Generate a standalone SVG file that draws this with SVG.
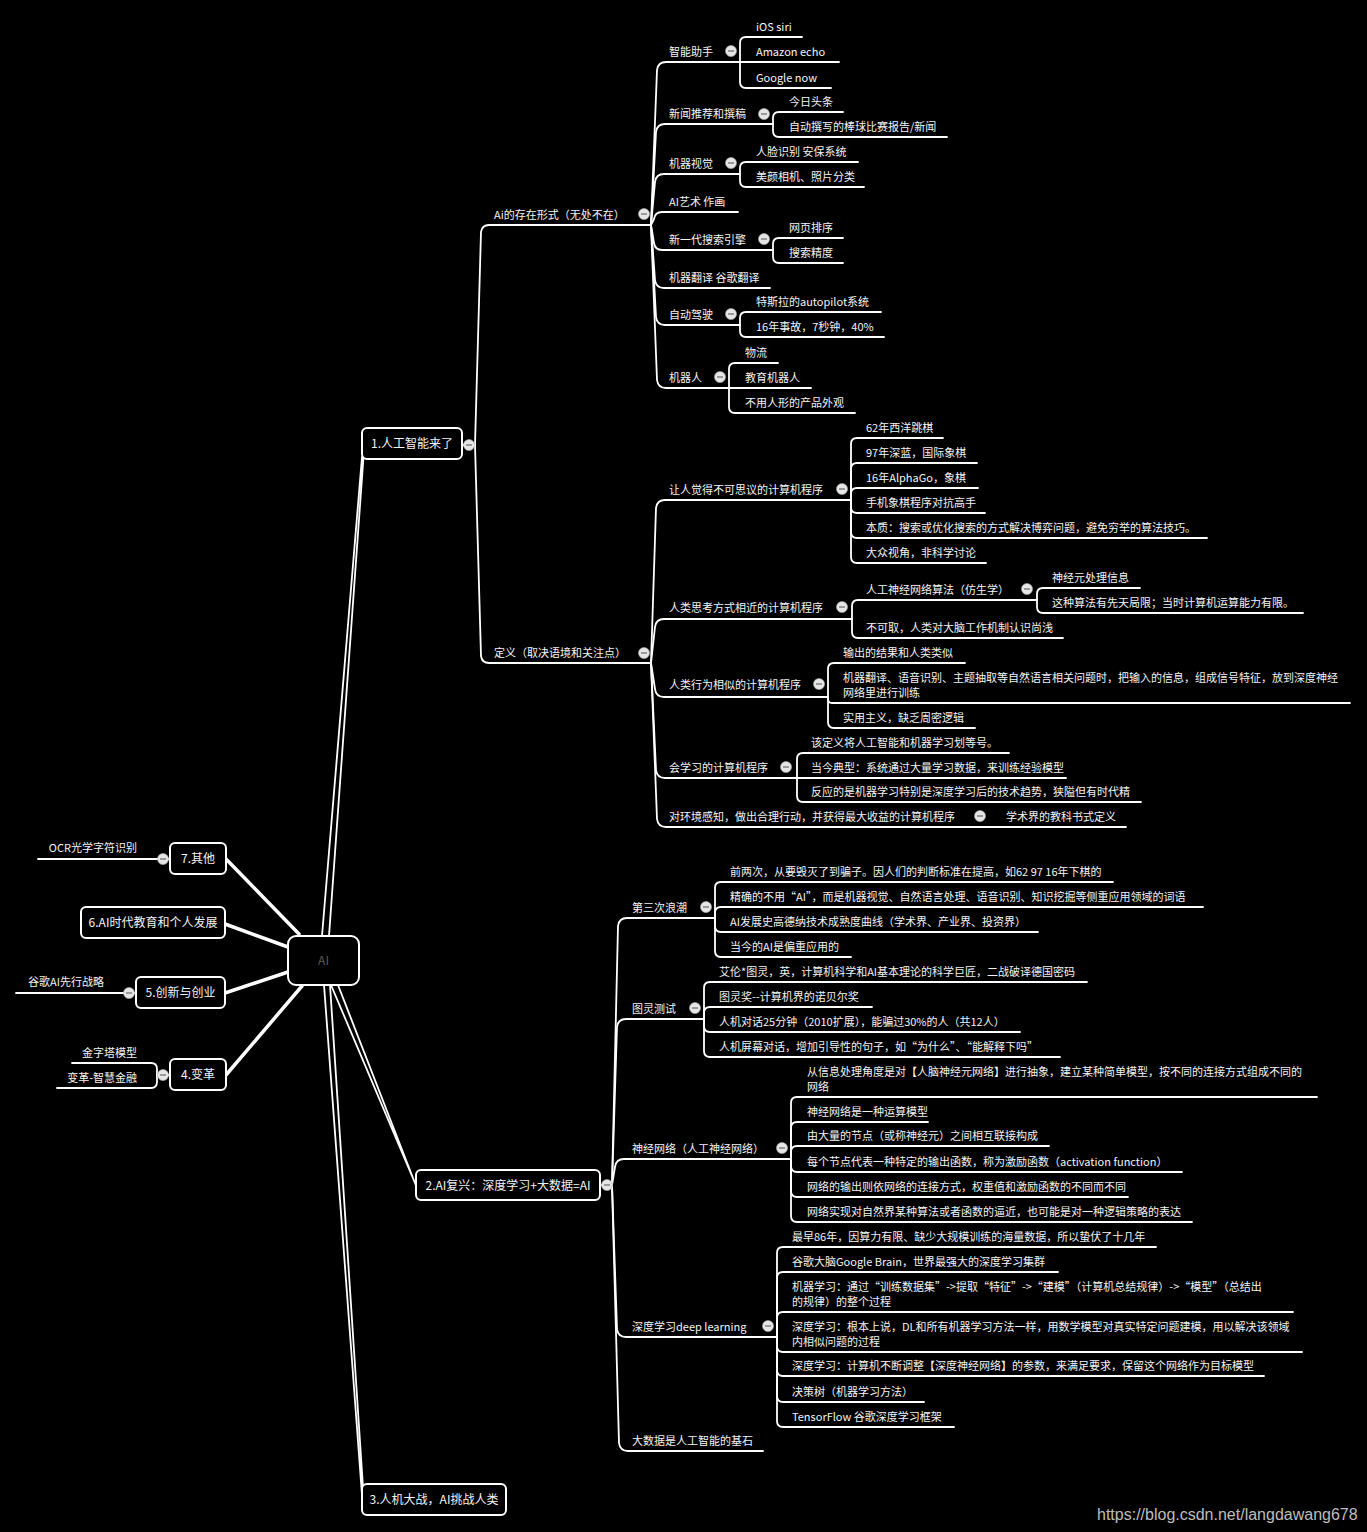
<svg xmlns="http://www.w3.org/2000/svg" xmlns:xlink="http://www.w3.org/1999/xlink" width="1367" height="1532" viewBox="0 0 1367 1532">
<style>
text{font-family:"Noto Sans CJK SC","Noto Sans",sans-serif;font-size:11px;fill:#f4f4f4}
.bx{font-size:12px;text-anchor:middle}
.c path,.c line{fill:none;stroke:#fff;stroke-width:1.8;stroke-linecap:round;stroke-linejoin:round}
.c .thick{stroke-width:3.5}
.box{fill:#000;stroke:#fff;stroke-width:2}
.e{text-anchor:end}
</style>
<defs>
<g id="dot"><circle r="5.5" fill="#e6e6e6" stroke="#b0b0b0" stroke-width="0.6"/><line x1="-3" y1="0" x2="3" y2="0" stroke="#808080" stroke-width="1.5"/></g>
</defs>
<rect width="1367" height="1532" fill="#000"/>

<g id="connectors" class="c">
<line class="thick" x1="226" y1="859" x2="299" y2="934"/>
<line class="thick" x1="225" y1="924" x2="288" y2="947"/>
<line class="thick" x1="225" y1="993" x2="288" y2="972"/>
<line class="thick" x1="226" y1="1075" x2="302" y2="986"/>
<path d="M322 936 L329 936 L363.5 457 L362 457 Z" fill="#fff" stroke="none"/>
<path d="M324 985 L330 985 L363.5 1495 L362 1495 Z" fill="#fff" stroke="none"/>
<path d="M331 985 L338 985 L416.5 1187 L415 1183 Z" fill="#fff" stroke="none"/>
<path d="M170 859 L38 859"/>
<path d="M136 993 L16 993"/>
<path d="M170 1075 L157 1075"/>
<path d="M157 1075 L157 1069 Q157 1063 151 1063 L72 1063"/>
<path d="M157 1075 L157 1082 Q157 1088 151 1088 L57 1088"/>
<path d="M462 445 L475 445"/>
<path d="M475 445 L481 232 Q482 225 489 225 L651 225"/>
<path d="M475 445 L481 656 Q482 663 489 663 L651 663"/>
<path d="M651 225 L657 70 Q658 62 666 62 L740 62"/>
<path d="M651 225 L656 132 Q657 124 665 124 L773 124"/>
<path d="M651 225 L655 182 Q656 174 664 174 L740 174"/>
<path d="M651 225 L654 219 Q655 212 662 212 L738 212"/>
<path d="M651 225 L654 243 Q655 250 662 250 L773 250"/>
<path d="M651 225 L655 280 Q656 288 664 288 L770 288"/>
<path d="M651 225 L656 317 Q657 325 665 325 L740 325"/>
<path d="M651 225 L657 380 Q658 388 666 388 L729 388"/>
<path d="M740 62 L740 43 Q740 37 746 37 L802 37"/>
<path d="M740 62 L839 62"/>
<path d="M740 62 L740 82 Q740 88 746 88 L831 88"/>
<path d="M773 124 L773 118 Q773 112 779 112 L843 112"/>
<path d="M773 124 L773 131 Q773 137 779 137 L947 137"/>
<path d="M740 174 L740 168 Q740 162 746 162 L858 162"/>
<path d="M740 174 L740 181 Q740 187 746 187 L864 187"/>
<path d="M773 250 L773 244 Q773 238 779 238 L843 238"/>
<path d="M773 250 L773 257 Q773 263 779 263 L843 263"/>
<path d="M740 325 L740 318 Q740 312 746 312 L881 312"/>
<path d="M740 325 L740 331 Q740 337 746 337 L884 337"/>
<path d="M729 388 L729 369 Q729 363 735 363 L778 363"/>
<path d="M729 388 L811 388"/>
<path d="M729 388 L729 407 Q729 413 735 413 L855 413"/>
<path d="M651 663 L656 508 Q657 500 665 500 L851 500"/>
<path d="M651 663 L655 627 Q656 619 664 619 L852 619"/>
<path d="M651 663 L655 689 Q656 697 664 697 L828 697"/>
<path d="M651 663 L656 770 Q657 778 665 778 L797 778"/>
<path d="M651 663 L657 819 Q658 827 666 827 L1126 827"/>
<path d="M851 500 L851 444 Q851 438 857 438 L943 438"/>
<path d="M851 500 L851 469 Q851 463 857 463 L977 463"/>
<path d="M851 500 L851 494 Q851 488 857 488 L978 488"/>
<path d="M851 500 L851 507 Q851 513 857 513 L985 513"/>
<path d="M851 500 L851 532 Q851 538 857 538 L1207 538"/>
<path d="M851 500 L851 557 Q851 563 857 563 L986 563"/>
<path d="M852 619 L852 606 Q852 600 858 600 L1037 600"/>
<path d="M852 619 L852 632 Q852 638 858 638 L1063 638"/>
<path d="M1037 600 L1037 594 Q1037 588 1043 588 L1140 588"/>
<path d="M1037 600 L1037 607 Q1037 613 1043 613 L1303 613"/>
<path d="M828 697 L828 669 Q828 663 834 663 L965 663"/>
<path d="M828 697 L828 699 Q828 703 832 703 L1350 703"/>
<path d="M828 697 L828 722 Q828 728 834 728 L975 728"/>
<path d="M797 778 L797 759 Q797 753 803 753 L1009 753"/>
<path d="M797 778 L1066 778"/>
<path d="M797 778 L797 796 Q797 802 803 802 L1141 802"/>
<path d="M600 1185 L612 1185"/>
<path d="M612 1185 L618 926 Q619 918 627 918 L715 918"/>
<path d="M612 1185 L617 1027 Q618 1019 626 1019 L704 1019"/>
<path d="M612 1185 L615 1167 Q616 1159 624 1159 L791 1159"/>
<path d="M612 1185 L617 1329 Q618 1337 626 1337 L777 1337"/>
<path d="M612 1185 L619 1443 Q620 1451 628 1451 L763 1451"/>
<path d="M715 918 L715 888 Q715 882 721 882 L1113 882"/>
<path d="M715 918 L715 913 Q715 907 721 907 L1203 907"/>
<path d="M715 918 L715 926 Q715 932 721 932 L1038 932"/>
<path d="M715 918 L715 951 Q715 957 721 957 L851 957"/>
<path d="M704 1019 L704 988 Q704 982 710 982 L1087 982"/>
<path d="M704 1019 L704 1013 Q704 1007 710 1007 L872 1007"/>
<path d="M704 1019 L704 1026 Q704 1032 710 1032 L1020 1032"/>
<path d="M704 1019 L704 1051 Q704 1057 710 1057 L1060 1057"/>
<path d="M791 1159 L791 1103 Q791 1097 797 1097 L1317 1097"/>
<path d="M791 1159 L791 1128 Q791 1122 797 1122 L928 1122"/>
<path d="M791 1159 L791 1152 Q791 1146 797 1146 L1049 1146"/>
<path d="M791 1159 L791 1166 Q791 1172 797 1172 L1182 1172"/>
<path d="M791 1159 L791 1191 Q791 1197 797 1197 L1128 1197"/>
<path d="M791 1159 L791 1216 Q791 1222 797 1222 L1192 1222"/>
<path d="M777 1337 L777 1253 Q777 1247 783 1247 L1156 1247"/>
<path d="M777 1337 L777 1278 Q777 1272 783 1272 L1058 1272"/>
<path d="M777 1337 L777 1318 Q777 1312 783 1312 L1293 1312"/>
<path d="M777 1337 L777 1346 Q777 1352 783 1352 L1302 1352"/>
<path d="M777 1337 L777 1370 Q777 1376 783 1376 L1264 1376"/>
<path d="M777 1337 L777 1396 Q777 1402 783 1402 L924 1402"/>
<path d="M777 1337 L777 1421 Q777 1427 783 1427 L954 1427"/>
</g>

<g id="n-ai"><rect class="box" x="288" y="936" width="71" height="49" rx="8" stroke-width="4"/><text class="bx" x="323.5" y="965" style="fill:#5a5a5a">AI</text></g>

<g id="n-7"><rect class="box" x="170" y="843" width="56" height="31" rx="5"/><text class="bx" x="198" y="863">7.其他</text><use href="#dot" x="163" y="859"/></g>
<g id="n-7-1"><text class="e" x="137" y="852">OCR光学字符识别</text></g>
<g id="n-6"><rect class="box" x="81" y="907" width="144" height="31" rx="5"/><text class="bx" x="153" y="927">6.AI时代教育和个人发展</text></g>
<g id="n-5"><rect class="box" x="136" y="977" width="89" height="31" rx="5"/><text class="bx" x="180.5" y="997">5.创新与创业</text><use href="#dot" x="129" y="993"/></g>
<g id="n-5-1"><text class="e" x="104" y="986">谷歌AI先行战略</text></g>
<g id="n-4"><rect class="box" x="170" y="1059" width="56" height="31" rx="5"/><text class="bx" x="198" y="1079">4.变革</text><use href="#dot" x="163" y="1075"/></g>
<g id="n-4-1"><text class="e" x="137" y="1057">金字塔模型</text></g>
<g id="n-4-2"><text class="e" x="137" y="1082">变革-智慧金融</text></g>

<g id="n-1"><rect class="box" x="362" y="428" width="100" height="31" rx="5"/><text class="bx" x="412" y="448">1.人工智能来了</text><use href="#dot" x="469" y="445"/></g>
<g id="n-1-1"><text x="494" y="219">Ai的存在形式（无处不在）</text><use href="#dot" x="644" y="214"/></g>
<g id="n-1-1-1"><text x="669" y="56">智能助手</text><use href="#dot" x="731" y="51"/></g>
<g id="n-1-1-1-1"><text x="756" y="31">iOS siri</text></g>
<g id="n-1-1-1-2"><text x="756" y="56">Amazon echo</text></g>
<g id="n-1-1-1-3"><text x="756" y="82">Google now</text></g>
<g id="n-1-1-2"><text x="669" y="118">新闻推荐和撰稿</text><use href="#dot" x="764" y="114"/></g>
<g id="n-1-1-2-1"><text x="789" y="106">今日头条</text></g>
<g id="n-1-1-2-2"><text x="789" y="131">自动撰写的棒球比赛报告/新闻</text></g>
<g id="n-1-1-3"><text x="669" y="168">机器视觉</text><use href="#dot" x="731" y="163"/></g>
<g id="n-1-1-3-1"><text x="756" y="156">人脸识别 安保系统</text></g>
<g id="n-1-1-3-2"><text x="756" y="181">美颜相机、照片分类</text></g>
<g id="n-1-1-4"><text x="669" y="206">AI艺术 作画</text></g>
<g id="n-1-1-5"><text x="669" y="244">新一代搜索引擎</text><use href="#dot" x="764" y="239"/></g>
<g id="n-1-1-5-1"><text x="789" y="232">网页排序</text></g>
<g id="n-1-1-5-2"><text x="789" y="257">搜索精度</text></g>
<g id="n-1-1-6"><text x="669" y="282">机器翻译 谷歌翻译</text></g>
<g id="n-1-1-7"><text x="669" y="319">自动驾驶</text><use href="#dot" x="731" y="314"/></g>
<g id="n-1-1-7-1"><text x="756" y="306">特斯拉的autopilot系统</text></g>
<g id="n-1-1-7-2"><text x="756" y="331">16年事故，7秒钟，40%</text></g>
<g id="n-1-1-8"><text x="669" y="382">机器人</text><use href="#dot" x="720" y="377"/></g>
<g id="n-1-1-8-1"><text x="745" y="357">物流</text></g>
<g id="n-1-1-8-2"><text x="745" y="382">教育机器人</text></g>
<g id="n-1-1-8-3"><text x="745" y="407">不用人形的产品外观</text></g>

<g id="n-1-2"><text x="494" y="657">定义（取决语境和关注点）</text><use href="#dot" x="644" y="653"/></g>
<g id="n-1-2-1"><text x="669" y="494">让人觉得不可思议的计算机程序</text><use href="#dot" x="842" y="489"/></g>
<g id="n-1-2-1-1"><text x="866" y="432">62年西洋跳棋</text></g>
<g id="n-1-2-1-2"><text x="866" y="457">97年深蓝，国际象棋</text></g>
<g id="n-1-2-1-3"><text x="866" y="482">16年AlphaGo，象棋</text></g>
<g id="n-1-2-1-4"><text x="866" y="507">手机象棋程序对抗高手</text></g>
<g id="n-1-2-1-5"><text x="866" y="532">本质：搜索或优化搜索的方式解决博弈问题，避免穷举的算法技巧。</text></g>
<g id="n-1-2-1-6"><text x="866" y="557">大众视角，非科学讨论</text></g>
<g id="n-1-2-2"><text x="669" y="612">人类思考方式相近的计算机程序</text><use href="#dot" x="842" y="607"/></g>
<g id="n-1-2-2-1"><text x="866" y="594">人工神经网络算法（仿生学）</text><use href="#dot" x="1027" y="589"/></g>
<g id="n-1-2-2-1-1"><text x="1052" y="582">神经元处理信息</text></g>
<g id="n-1-2-2-1-2"><text x="1052" y="607">这种算法有先天局限；当时计算机运算能力有限。</text></g>
<g id="n-1-2-2-2"><text x="866" y="632">不可取，人类对大脑工作机制认识尚浅</text></g>
<g id="n-1-2-3"><text x="669" y="689">人类行为相似的计算机程序</text><use href="#dot" x="819" y="684"/></g>
<g id="n-1-2-3-1"><text x="843" y="657">输出的结果和人类类似</text></g>
<g id="n-1-2-3-2"><text x="843" y="682">机器翻译、语音识别、主题抽取等自然语言相关问题时，把输入的信息，组成信号特征，放到深度神经</text><text x="843" y="697">网络里进行训练</text></g>
<g id="n-1-2-3-3"><text x="843" y="722">实用主义，缺乏周密逻辑</text></g>
<g id="n-1-2-4"><text x="669" y="772">会学习的计算机程序</text><use href="#dot" x="786" y="767"/></g>
<g id="n-1-2-4-1"><text x="811" y="747">该定义将人工智能和机器学习划等号。</text></g>
<g id="n-1-2-4-2"><text x="811" y="772">当今典型：系统通过大量学习数据，来训练经验模型</text></g>
<g id="n-1-2-4-3"><text x="811" y="796">反应的是机器学习特别是深度学习后的技术趋势，狭隘但有时代精</text></g>
<g id="n-1-2-5"><text x="669" y="821">对环境感知，做出合理行动，并获得最大收益的计算机程序</text><use href="#dot" x="980" y="816"/></g>
<g id="n-1-2-5-1"><text x="1006" y="821">学术界的教科书式定义</text></g>

<g id="n-2"><rect class="box" x="416" y="1170" width="184" height="30" rx="5"/><text class="bx" x="508" y="1189.5">2.AI复兴：深度学习+大数据=AI</text><use href="#dot" x="607" y="1185"/></g>
<g id="n-2-1"><text x="632" y="912">第三次浪潮</text><use href="#dot" x="706" y="907"/></g>
<g id="n-2-1-1"><text x="730" y="876">前两次，从要毁灭了到骗子。因人们的判断标准在提高，如62 97 16年下棋的</text></g>
<g id="n-2-1-2"><text x="730" y="901">精确的不用“AI”，而是机器视觉、自然语言处理、语音识别、知识挖掘等侧重应用领域的词语</text></g>
<g id="n-2-1-3"><text x="730" y="926">AI发展史高德纳技术成熟度曲线（学术界、产业界、投资界）</text></g>
<g id="n-2-1-4"><text x="730" y="951">当今的AI是偏重应用的</text></g>
<g id="n-2-2"><text x="632" y="1013">图灵测试</text><use href="#dot" x="695" y="1008"/></g>
<g id="n-2-2-1"><text x="719" y="976">艾伦*图灵，英，计算机科学和AI基本理论的科学巨匠，二战破译德国密码</text></g>
<g id="n-2-2-2"><text x="719" y="1001">图灵奖--计算机界的诺贝尔奖</text></g>
<g id="n-2-2-3"><text x="719" y="1026">人机对话25分钟（2010扩展），能骗过30%的人（共12人）</text></g>
<g id="n-2-2-4"><text x="719" y="1051">人机屏幕对话，增加引导性的句子，如“为什么”、“能解释下吗”</text></g>
<g id="n-2-3"><text x="632" y="1153">神经网络（人工神经网络）</text><use href="#dot" x="782" y="1148"/></g>
<g id="n-2-3-1"><text x="807" y="1076">从信息处理角度是对【人脑神经元网络】进行抽象，建立某种简单模型，按不同的连接方式组成不同的</text><text x="807" y="1091">网络</text></g>
<g id="n-2-3-2"><text x="807" y="1116">神经网络是一种运算模型</text></g>
<g id="n-2-3-3"><text x="807" y="1140">由大量的节点（或称神经元）之间相互联接构成</text></g>
<g id="n-2-3-4"><text x="807" y="1166">每个节点代表一种特定的输出函数，称为激励函数（activation function）</text></g>
<g id="n-2-3-5"><text x="807" y="1191">网络的输出则依网络的连接方式，权重值和激励函数的不同而不同</text></g>
<g id="n-2-3-6"><text x="807" y="1216">网络实现对自然界某种算法或者函数的逼近，也可能是对一种逻辑策略的表达</text></g>
<g id="n-2-4"><text x="632" y="1331">深度学习deep learning</text><use href="#dot" x="768" y="1326"/></g>
<g id="n-2-4-1"><text x="792" y="1241">最早86年，因算力有限、缺少大规模训练的海量数据，所以蛰伏了十几年</text></g>
<g id="n-2-4-2"><text x="792" y="1266">谷歌大脑Google Brain，世界最强大的深度学习集群</text></g>
<g id="n-2-4-3"><text x="792" y="1291">机器学习：通过“训练数据集”->提取“特征”->“建模”（计算机总结规律）->“模型”（总结出</text><text x="792" y="1306">的规律）的整个过程</text></g>
<g id="n-2-4-4"><text x="792" y="1331">深度学习：根本上说，DL和所有机器学习方法一样，用数学模型对真实特定问题建模，用以解决该领域</text><text x="792" y="1346">内相似问题的过程</text></g>
<g id="n-2-4-5"><text x="792" y="1370">深度学习：计算机不断调整【深度神经网络】的参数，来满足要求，保留这个网络作为目标模型</text></g>
<g id="n-2-4-6"><text x="792" y="1396">决策树（机器学习方法）</text></g>
<g id="n-2-4-7"><text x="792" y="1421">TensorFlow 谷歌深度学习框架</text></g>
<g id="n-2-5"><text x="632" y="1445">大数据是人工智能的基石</text></g>

<g id="n-3"><rect class="box" x="362" y="1484" width="144" height="31" rx="5"/><text class="bx" x="434" y="1504">3.人机大战，AI挑战人类</text></g>

<text x="1097" y="1520" style="font-family:'Liberation Sans',Arial,sans-serif;font-size:16px;fill:#bdbdbd">https://blog.csdn.net/langdawang678</text>
</svg>
